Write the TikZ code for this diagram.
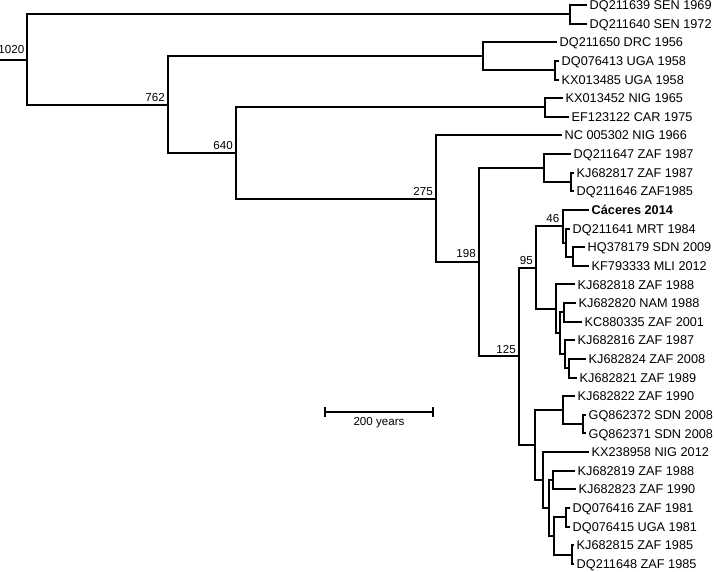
\documentclass[tikz,border=0pt]{standalone}
\usepackage{fontspec}
\setmainfont{Liberation Sans}
\usetikzlibrary{arrows.meta}
\tikzset{
  branch/.style={line width=2pt},
  leaf/.style={anchor=west, inner xsep=2.5pt, inner ysep=0pt, text height=9.1pt,
    text depth=0pt, font=\fontsize{12.7}{15}\selectfont},
  age/.style={anchor=south east, inner sep=1pt, font=\fontsize{11.6}{13}\selectfont},
}
\begin{document}
\begin{tikzpicture}[x=1pt, y=-1pt]
    \useasboundingbox (0,0) rectangle (714,572);
    % tips, one row every 18.63
    \foreach \i/\x/\t in {0/587/DQ211639 SEN 1969, 1/587/DQ211640 SEN 1972,
        2/557/DQ211650 DRC 1956, 3/559/DQ076413 UGA 1958, 4/559/KX013485 UGA 1958,
        5/563/KX013452 NIG 1965, 6/569/EF123122 CAR 1975, 7/562/NC 005302 NIG 1966,
        8/571/DQ211647 ZAF 1987, 9/574/KJ682817 ZAF 1987, 10/574/DQ211646 ZAF1985,
        11/589/\textbf{Cáceres 2014}, 12/570/DQ211641 MRT 1984, 13/585/HQ378179 SDN 2009,
        14/589/KF793333 MLI 2012, 15/575/KJ682818 ZAF 1988, 16/576/KJ682820 NAM 1988,
        17/582/KC880335 ZAF 2001, 18/575/KJ682816 ZAF 1987, 19/586/KJ682824 ZAF 2008,
        20/577/KJ682821 ZAF 1989, 21/575/KJ682822 ZAF 1990, 22/586/GQ862372 SDN 2008,
        23/586/GQ862371 SDN 2008, 24/589/KX238958 NIG 2012, 25/575/KJ682819 ZAF 1988,
        26/576/KJ682823 ZAF 1990, 27/570/DQ076416 ZAF 1981, 28/570/DQ076415 UGA 1981,
        29/574/KJ682815 ZAF 1985, 30/574/DQ211648 ZAF 1985}
      \node[leaf] (l\i) at (\x, {5+18.63*\i}) {\t};
    % inner nodes
    \coordinate (root) at (0,60);
    \coordinate (r) at (27,60);
    \coordinate (sen) at (570,14.3);
    \coordinate (n762) at (168,104.7);
    \coordinate (drc) at (483,56.3);
    \coordinate (uga) at (555,70.2);
    \coordinate (n640) at (236,153.2);
    \coordinate (kx) at (545,107.5);
    \coordinate (n275) at (436,198.8);
    \coordinate (n198) at (479,262.2);
    \coordinate (zafa) at (544,168);
    \coordinate (zafb) at (571,182);
    \coordinate (n125) at (519,356.4);
    \coordinate (n95) at (536,267.6);
    \coordinate (n46) at (563,226.2);
    \coordinate (s1) at (566,242.6);
    \coordinate (s2) at (573,256.5);
    \coordinate (a) at (556,308.9);
    \coordinate (b) at (560,333.3);
    \coordinate (c) at (564,312.4);
    \coordinate (d) at (565,354.3);
    \coordinate (e) at (569,368.3);
    \coordinate (f) at (535,445.1);
    \coordinate (g) at (563,410.2);
    \coordinate (gq) at (583,424.2);
    \coordinate (h) at (543,480);
    \coordinate (j) at (549,508);
    \coordinate (k) at (553,480.1);
    \coordinate (q) at (554,536);
    \coordinate (m) at (566,517.3);
    \coordinate (n) at (572,554.6);
    % branches
    \draw[branch] (root) -- (r);
    \foreach \p/\c in {r/sen, r/n762, sen/l0, sen/l1, n762/drc, n762/n640,
        drc/l2, drc/uga, uga/l3, uga/l4, n640/kx, n640/n275, kx/l5, kx/l6,
        n275/l7, n275/n198, n198/zafa, n198/n125, zafa/l8, zafa/zafb,
        zafb/l9, zafb/l10, n125/n95, n125/f, n95/n46, n95/a, n46/l11, n46/s1,
        s1/l12, s1/s2, s2/l13, s2/l14, a/l15, a/b, b/c, b/d, c/l16, c/l17,
        d/l18, d/e, e/l19, e/l20, f/g, f/h, g/l21, g/gq, gq/l22, gq/l23,
        h/l24, h/j, j/k, j/q, k/l25, k/l26, q/m, q/n, m/l27, m/l28, n/l29, n/l30}
      \draw[branch] (\p) |- (\c);
    % node ages
    \node[age] (t1020) at ([xshift=-1.5pt,yshift=5pt]r) {1020};
    \node[age] (t762) at ([xshift=-2pt,yshift=2pt]n762) {762};
    \node[age] (t640) at ([xshift=-2pt,yshift=2pt]n640) {640};
    \node[age] (t275) at ([xshift=-2pt,yshift=2pt]n275) {275};
    \node[age] (t198) at ([xshift=-2pt,yshift=3pt]n198) {198};
    \node[age] (t125) at ([xshift=-2pt,yshift=2pt]n125) {125};
    \node[age] (t95) at ([xshift=-2pt,yshift=2pt]n95) {95};
    \node[age] (t46) at ([xshift=-2.5pt,yshift=2pt]n46) {46};
    % scale bar
    \coordinate (sbl) at (324,412);
    \coordinate (sbr) at (434,412);
    \draw[branch, {Bar[width=10pt]}-{Bar[width=10pt]}] (sbl) -- (sbr);
    \node[age, anchor=north] (sbt) at (379,416) {200 years};
\end{tikzpicture}
\end{document}
